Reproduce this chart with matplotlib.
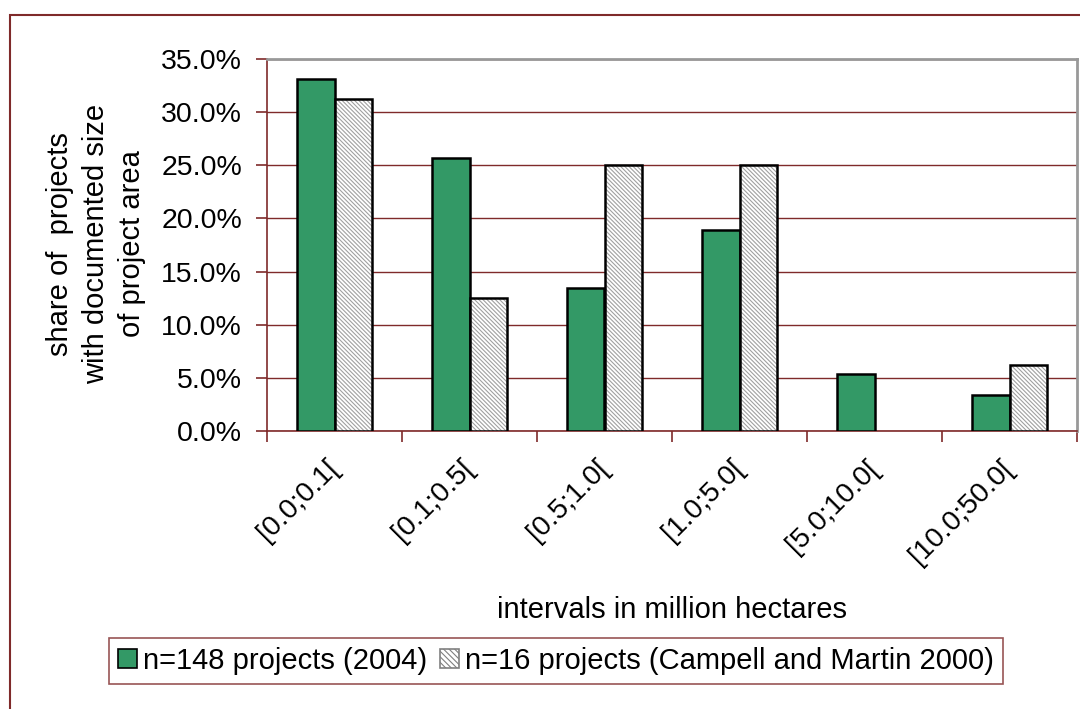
import numpy as np
import matplotlib
matplotlib.use('Agg')
import matplotlib.pyplot as plt
from matplotlib.patches import Rectangle, Patch

plt.rcParams['font.family'] = ['Liberation Sans', 'DejaVu Sans']
plt.rcParams['hatch.linewidth'] = 0.8

intervals = ['[0.0;0.1[', '[0.1;0.5[', '[0.5;1.0[', '[1.0;5.0[', '[5.0;10.0[', '[10.0;50.0[']
share_2004 = [0.331, 0.257, 0.135, 0.189, 0.054, 0.034]
share_2000 = [0.3125, 0.125, 0.25, 0.25, 0.0, 0.0625]
label_2004 = 'n=148 projects (2004)'
label_2000 = 'n=16 projects (Campell and Martin 2000)'

red = '#7f2a2a'
green = '#339966'
hatch = '\\\\\\\\\\\\\\\\'
fs = 21

fig = plt.figure(figsize=(10.8, 7.09), dpi=100)
fig.patches.append(Rectangle((10 / 1080, -0.1), 1.2, 1 - 15 / 709 + 0.1,
                             transform=fig.transFigure, fill=False,
                             edgecolor=red, linewidth=1.5))

ax = fig.add_axes([267 / 1080, 1 - 431 / 709, 810 / 1080, 372 / 709])
x = np.arange(len(intervals))
w = 0.28
lw2000 = [1.8 if v > 0 else 0 for v in share_2000]
ax.bar(x - w / 2, share_2004, w, color=green, edgecolor='black',
       linewidth=1.8, zorder=3)
# hatch fill in gray, then black outline on top
ax.bar(x + w / 2, share_2000, w, color='white', edgecolor='#a0a0a0',
       linewidth=0, hatch=hatch, zorder=3)
ax.bar(x + w / 2, share_2000, w, fill=False, edgecolor='black',
       linewidth=lw2000, zorder=4)

ax.set_xlim(-0.5, len(intervals) - 0.5)
ax.set_ylim(0, 0.35)
yt = np.arange(0, 0.351, 0.05)
ax.set_yticks(yt)
ax.set_yticklabels([f'{v * 100:.1f}%' for v in yt], fontsize=20.5)
ax.yaxis.grid(True, color=red, linewidth=1.0, zorder=0)
ax.set_axisbelow(True)

ax.set_xticks(np.arange(-0.5, len(intervals)))
ax.set_xticklabels([])
ax.set_xticks(x, minor=True)
ax.set_xticklabels(intervals, minor=True, rotation=45, ha='right', va='center',
                   rotation_mode='anchor', fontsize=20.5)
ax.tick_params(axis='x', which='minor', length=0, pad=24)
ax.tick_params(axis='x', which='major', length=8, color=red, width=1.2)
ax.tick_params(axis='y', length=8, color=red, width=1.2, pad=10)

for s in ['left', 'bottom']:
    ax.spines[s].set_color(red)
    ax.spines[s].set_linewidth(1.2)
for s in ['top', 'right']:
    ax.spines[s].set_color('#999999')
    ax.spines[s].set_linewidth(2)

fig.text(672 / 1080, 1 - 610 / 709, 'intervals in million hectares',
         ha='center', va='center', fontsize=fs)
fig.text(96 / 1080, 1 - 244 / 709,
         'share of  projects\nwith documented size\nof project area',
         ha='center', va='center', rotation=90, fontsize=fs, linespacing=1.35)

handles = [Patch(facecolor=green, edgecolor='black', linewidth=1.2),
           Patch(facecolor='white', edgecolor='#808080', linewidth=1.2,
                 hatch='\\\\\\\\\\\\')]
leg = fig.legend(handles, [label_2004, label_2000], loc='center',
                 bbox_to_anchor=(556 / 1080, 1 - 661 / 709),
                 ncol=2, fontsize=fs, frameon=True, fancybox=False,
                 handlelength=0.65, handleheight=0.65, handletextpad=0.2,
                 columnspacing=0.45, borderpad=0.3, borderaxespad=0)
leg.get_frame().set_edgecolor(red)
leg.get_frame().set_linewidth(1.2)

fig.savefig('out.png', dpi=100)
